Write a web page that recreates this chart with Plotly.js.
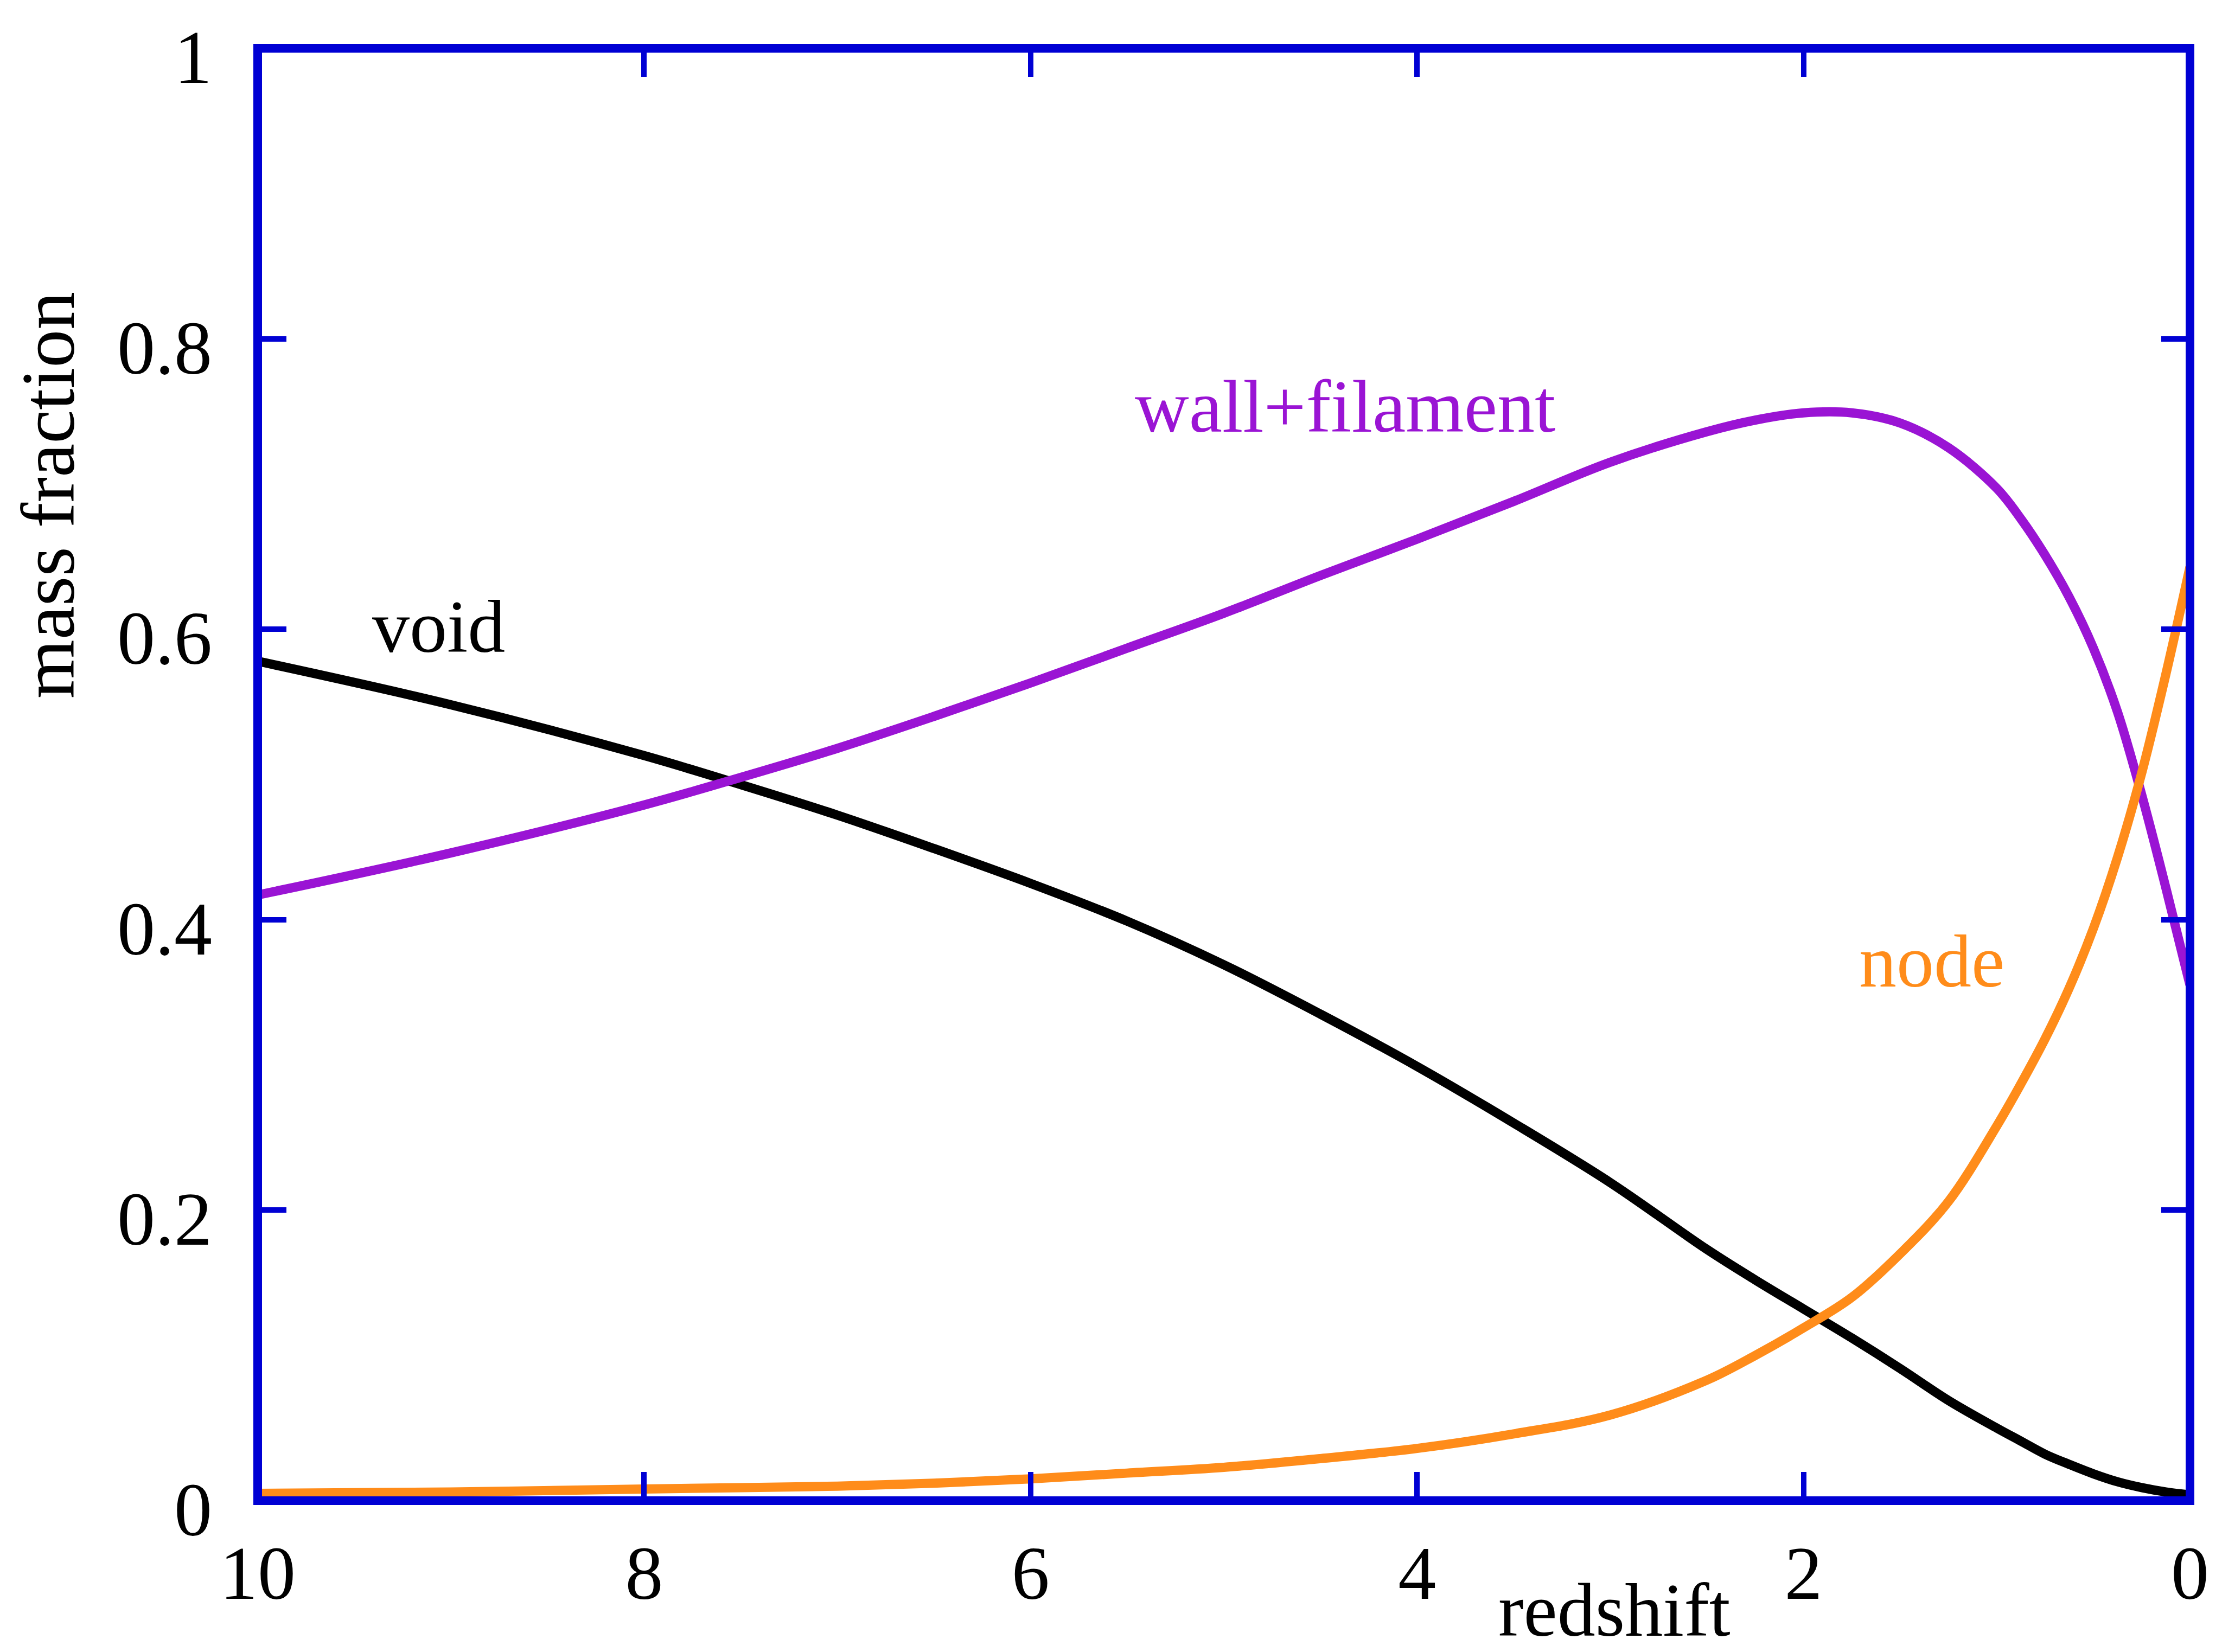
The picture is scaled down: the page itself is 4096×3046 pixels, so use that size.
<!DOCTYPE html>
<html>
<head>
<meta charset="utf-8">
<script src="https://cdn.plot.ly/plotly-3.0.1.min.js"></script>
<style>
  html, body { margin: 0; padding: 0; background: #ffffff; }
  #chart { width: 4096px; height: 3046px; }
</style>
</head>
<body>
<div id="chart"></div>
<script>
// redshift values (x)
const redshift = [10, 9, 8, 7.5, 7, 6.5, 6, 5.5, 5, 4.5, 4, 3.5, 3, 2.5, 2.25, 2, 1.75, 1.5, 1.25, 1, 0.875, 0.75, 0.625, 0.5, 0.375, 0.25, 0.125, 0];
// mass fractions
const voidFrac = [0.578, 0.548, 0.513, 0.493, 0.472, 0.449, 0.425, 0.399, 0.369, 0.335, 0.299, 0.260, 0.219, 0.173, 0.152, 0.132, 0.112, 0.091, 0.069, 0.050, 0.041, 0.032, 0.025, 0.0185, 0.013, 0.009, 0.006, 0.004];
const wallFilament = [0.417, 0.446, 0.479, 0.498, 0.518, 0.540, 0.563, 0.587, 0.611, 0.637, 0.662, 0.688, 0.715, 0.736, 0.744, 0.749, 0.749, 0.742, 0.725, 0.697, 0.676, 0.651, 0.622, 0.587, 0.543, 0.486, 0.422, 0.355];
const node = [0.005, 0.006, 0.008, 0.009, 0.010, 0.012, 0.015, 0.019, 0.023, 0.029, 0.036, 0.046, 0.059, 0.083, 0.100, 0.119, 0.140, 0.170, 0.206, 0.258, 0.287, 0.318, 0.353, 0.394, 0.443, 0.501, 0.569, 0.643];
// tick values / labels
const xTickVals = [10, 8, 6, 4, 2, 0];
const xTickText = ['10', '8', '6', '4', '2', '0'];
const yTickVals = [0, 0.2, 0.4, 0.6, 0.8, 1];
const yTickText = ['0', '0.2', '0.4', '0.6', '0.8', '1'];
// series names
const seriesNames = ['void', 'wall+filament', 'node'];

const FONT = 'Liberation Serif, Times New Roman, serif';
const BLUE = '#0000d4';
const PURPLE = '#9a14d4';
const ORANGE = '#ff8c1a';
const BLACK = '#000000';

const traces = [
  { x: redshift, y: voidFrac, name: seriesNames[0], mode: 'lines',
    line: { color: BLACK, width: 17, shape: 'spline', smoothing: 1 } },
  { x: redshift, y: wallFilament, name: seriesNames[1], mode: 'lines',
    line: { color: PURPLE, width: 17, shape: 'spline', smoothing: 1 } },
  { x: redshift, y: node, name: seriesNames[2], mode: 'lines',
    line: { color: ORANGE, width: 17, shape: 'spline', smoothing: 1 } }
];

const axisCommon = {
  showgrid: false, zeroline: false, showline: false,
  ticks: 'inside', ticklen: 53, tickwidth: 10, tickcolor: BLUE,
  mirror: 'ticks',
  tickfont: { family: FONT, size: 140, color: '#000000' }
};

const layout = {
  width: 4096, height: 3046,
  margin: { l: 475, r: 59, t: 89, b: 279, pad: 0 },
  paper_bgcolor: '#ffffff', plot_bgcolor: '#ffffff',
  showlegend: false,
  xaxis: Object.assign({}, axisCommon, {
    range: [10, 0], tickmode: 'array', tickvals: xTickVals, ticktext: xTickText,
    ticklabelstandoff: 40
  }),
  yaxis: Object.assign({}, axisCommon, {
    range: [0, 1], tickmode: 'array', tickvals: yTickVals, ticktext: yTickText,
    ticklabelstandoff: 83, ticklabelshift: 15
  }),
  shapes: [
    { type: 'rect', xref: 'paper', yref: 'paper', x0: 0, x1: 1, y0: 0, y1: 1,
      line: { color: BLUE, width: 16 }, fillcolor: 'rgba(0,0,0,0)', layer: 'above' }
  ],
  annotations: [
    { text: 'mass fraction', xref: 'paper', yref: 'paper', x: -0.1086, y: 0.6923,
      textangle: -90, showarrow: false, xanchor: 'center', yanchor: 'middle',
      font: { family: FONT, size: 140, color: '#000000' } },
    { text: 'redshift', xref: 'paper', yref: 'paper', x: 0.7022, y: -0.0752,
      showarrow: false, xanchor: 'center', yanchor: 'middle',
      font: { family: FONT, size: 140, color: '#000000' } },
    { text: seriesNames[0], xref: 'paper', yref: 'paper', x: 0.0936, y: 0.6019,
      showarrow: false, xanchor: 'center', yanchor: 'middle',
      font: { family: FONT, size: 138, color: BLACK } },
    { text: seriesNames[1], xref: 'paper', yref: 'paper', x: 0.5627, y: 0.7535,
      showarrow: false, xanchor: 'center', yanchor: 'middle',
      font: { family: FONT, size: 138, color: PURPLE } },
    { text: seriesNames[2], xref: 'paper', yref: 'paper', x: 0.8664, y: 0.3715,
      showarrow: false, xanchor: 'center', yanchor: 'middle',
      font: { family: FONT, size: 138, color: ORANGE } }
  ]
};

Plotly.newPlot('chart', traces, layout, { displayModeBar: false, staticPlot: true });
</script>
</body>
</html>
